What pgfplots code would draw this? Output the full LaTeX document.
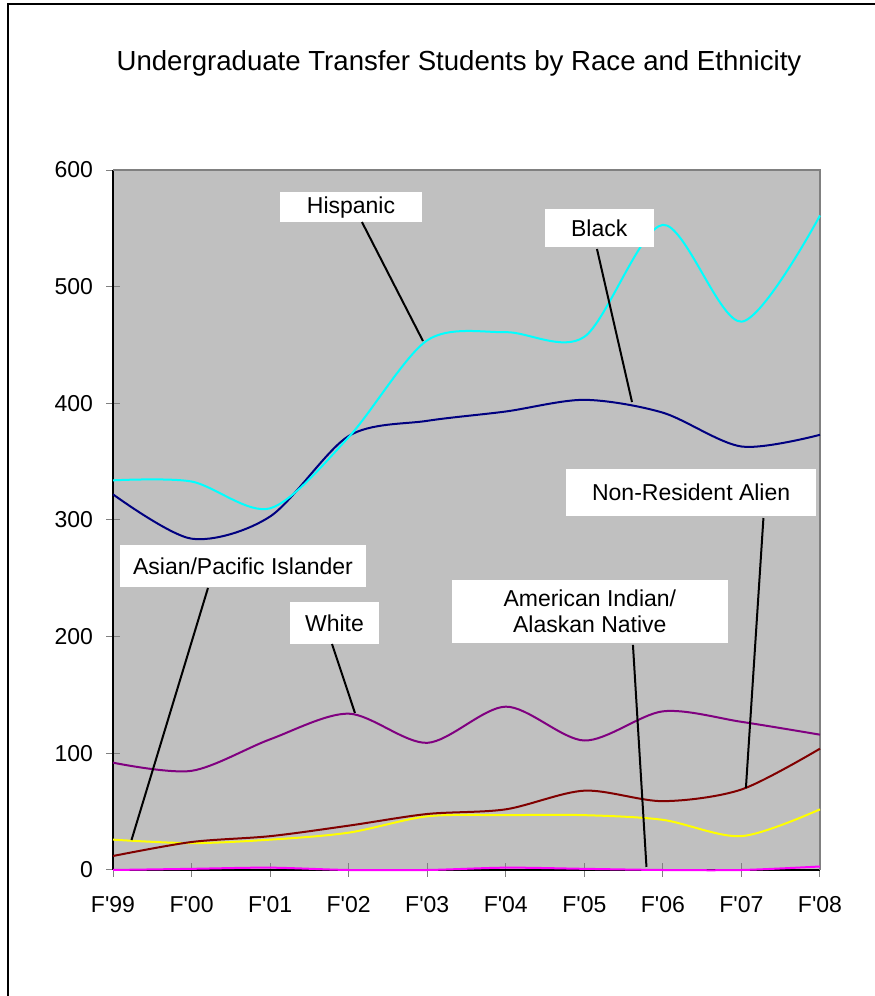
\documentclass[border=0pt]{standalone}
\usepackage{fontspec}
\setmainfont{Liberation Sans}[Ligatures=TeXOff]
\usepackage{pgfplots}
\pgfplotsset{compat=1.18}
\definecolor{plotgray}{HTML}{C0C0C0}
\definecolor{framegray}{HTML}{808080}
\definecolor{cHisp}{HTML}{00FFFF}
\definecolor{cBlack}{HTML}{000080}
\definecolor{cWhite}{HTML}{800080}
\definecolor{cNRA}{HTML}{800000}
\definecolor{cAsian}{HTML}{FFFF00}
\definecolor{cAmInd}{HTML}{FF00FF}
\begin{document}
\begin{tikzpicture}
\begin{axis}[
  at={(56.5bp,63bp)}, anchor=south west,
  width=353.5bp, height=350bp, scale only axis,
  xmin=0, xmax=9, ymin=0, ymax=600,
  xtick={0,...,9},
  xticklabels={F'99,F'00,F'01,F'02,F'03,F'04,F'05,F'06,F'07,F'08},
  ytick={0,100,...,600},
  axis background/.style={fill=plotgray},
  axis x line*=bottom, axis y line*=left,
  axis line style={black, line width=0.75bp},
  tick align=center, major tick length=7bp,
  tick style={color=framegray, line width=0.5bp},
  ticklabel style={font=\fontsize{11.5bp}{13bp}\selectfont},
  yticklabel style={xshift=-3bp},
  xticklabel style={yshift=-6bp},
  /pgf/number format/assume math mode=true,
  clip=false,
  every axis plot/.append style={line width=1bp, smooth, no markers},
]
\draw[framegray, line width=0.75bp] (rel axis cs:0,1) -- (rel axis cs:1,1) -- (rel axis cs:1,0);
\addplot[cAmInd] coordinates {(0,0) (1,1) (2,2) (3,0) (4,0) (5,2) (6,1) (7,0) (8,0) (9,3)};
\addplot[cAsian] coordinates {(0,26) (1,23) (2,26) (3,32) (4,46) (5,47) (6,47) (7,43) (8,29) (9,52)};
\addplot[cNRA] coordinates {(0,12) (1,24) (2,29) (3,38) (4,48) (5,52) (6,68) (7,59) (8,69) (9,104)};
\addplot[cWhite] coordinates {(0,92) (1,85) (2,112) (3,134) (4,109) (5,140) (6,111) (7,136) (8,127) (9,116)};
\addplot[cBlack] coordinates {(0,322) (1,284) (2,303) (3,372) (4,385) (5,393) (6,403) (7,392) (8,363) (9,373)};
\addplot[cHisp] coordinates {(0,334) (1,333) (2,310) (3,371) (4,454) (5,461) (6,457) (7,553) (8,470) (9,561)};
% callouts
\tikzset{callout/.style={fill=white, inner sep=0pt, align=center, font=\fontsize{11.5bp}{13.3bp}\selectfont}}
\node[callout, minimum width=71bp, minimum height=15bp] at (axis cs:3.03,568) {Hispanic};
\node[callout, minimum width=54.5bp, minimum height=19bp] at (axis cs:6.19,550) {Black};
\node[callout, minimum width=125bp, minimum height=23.5bp] at (axis cs:7.36,323.6) {Non-Resident Alien};
\node[callout, minimum width=123bp, minimum height=21bp] at (axis cs:1.655,260.6) {Asian/Pacific Islander};
\node[callout, minimum width=44.5bp, minimum height=21bp] at (axis cs:2.82,211.7) {White};
\node[callout, minimum width=138bp, minimum height=31.5bp] at (axis cs:6.07,221.6) {American Indian/\\Alaskan Native};
\draw[black, line width=1bp] (axis cs:3.169,555.4) -- (axis cs:3.946,453.4);
\draw[black, line width=1bp] (axis cs:6.161,532.3) -- (axis cs:6.607,401.1);
\draw[black, line width=1bp] (axis cs:8.28,301.7) -- (axis cs:8.057,70.3);
\draw[black, line width=1bp] (axis cs:1.209,241.7) -- (axis cs:0.2355,25.7);
\draw[black, line width=1bp] (axis cs:2.788,193.7) -- (axis cs:3.080,134.6);
\draw[black, line width=1bp] (axis cs:6.619,192.9) -- (axis cs:6.791,2.6);
\end{axis}
\node[anchor=base, inner sep=0pt, font=\fontsize{13.8bp}{16bp}\selectfont] at (229.5bp,462.5bp) {Undergraduate Transfer Students by Race and Ethnicity};
\draw[black, line width=0.75bp] (4bp,0) -- (4bp,496bp) -- (437.5bp,496bp);
\pgfresetboundingbox
\path (0,0) rectangle (437.5bp,498bp);
\end{tikzpicture}
\end{document}
